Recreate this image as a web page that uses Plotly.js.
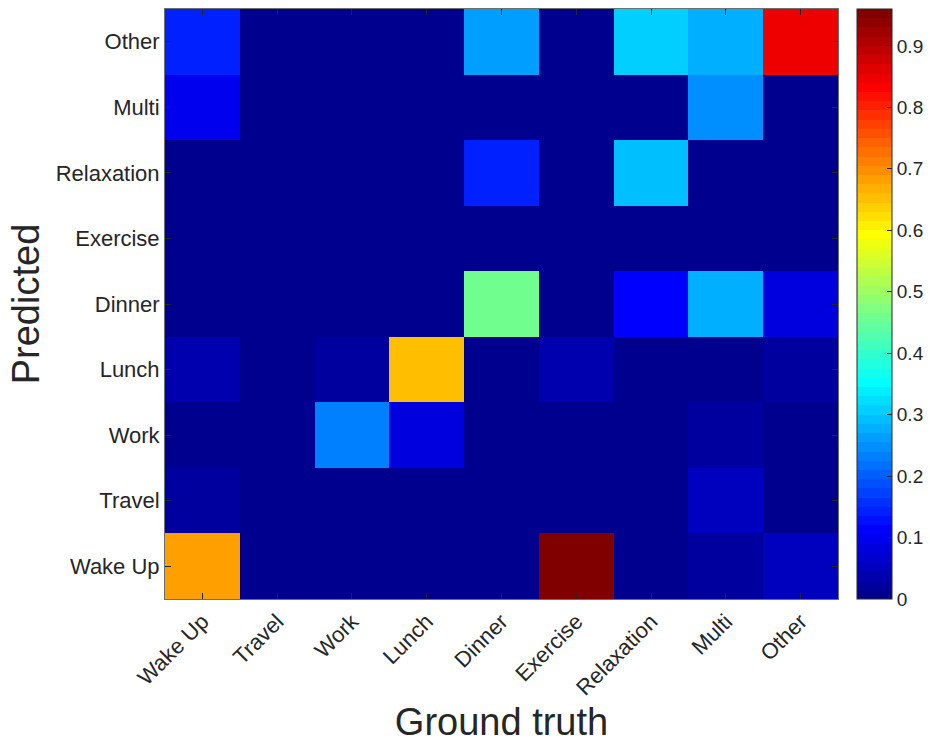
<!DOCTYPE html>
<html>
<head>
<meta charset="utf-8">
<script src="https://cdn.plot.ly/plotly-3.0.1.min.js"></script>
<style>html,body{margin:0;padding:0;background:#fff;}#chart{width:930px;height:743px;}</style>
</head>
<body>
<div id="chart"></div>
<script>
// Categories (ground truth on x, predicted on y)
const groundTruth = ['Wake Up','Travel','Work','Lunch','Dinner','Exercise','Relaxation','Multi','Other'];
const predicted   = ['Wake Up','Travel','Work','Lunch','Dinner','Exercise','Relaxation','Multi','Other'];

// One row per predicted class, columns follow groundTruth order
const predWakeUp     = [0.682, 0, 0,     0,     0,     0.960, 0.005, 0.022, 0.052];
const predTravel     = [0.022, 0, 0,     0,     0,     0,     0,     0.052, 0.008];
const predWork       = [0.005, 0, 0.232, 0.082, 0,     0,     0.005, 0.022, 0.008];
const predLunch      = [0.037, 0, 0.022, 0.652, 0,     0.037, 0.005, 0.008, 0.018];
const predDinner     = [0,     0, 0,     0,     0.457, 0,     0.112, 0.277, 0.082];
const predExercise   = [0,     0, 0,     0,     0,     0,     0,     0,     0];
const predRelaxation = [0,     0, 0,     0,     0.142, 0,     0.292, 0,     0];
const predMulti      = [0.097, 0, 0,     0,     0,     0,     0,     0.247, 0];
const predOther      = [0.142, 0, 0,     0,     0.262, 0,     0.307, 0.277, 0.847];

const colorTicks = [0, 0.1, 0.2, 0.3, 0.4, 0.5, 0.6, 0.7, 0.8, 0.9];

const z = [predWakeUp, predTravel, predWork, predLunch, predDinner,
           predExercise, predRelaxation, predMulti, predOther];

// MATLAB-style jet(64) as a stepped colorscale
function jet64() {
  const m = 64, n = 16;
  const u = [];
  for (let i = 1; i <= n; i++) u.push(i / n);
  for (let i = 0; i < n - 1; i++) u.push(1);
  for (let i = n; i >= 1; i--) u.push(i / n);
  const R = new Array(m).fill(0), G = new Array(m).fill(0), B = new Array(m).fill(0);
  for (let k = 0; k < u.length; k++) {
    const g = 8 + k + 1, r = g + n, b = g - n;
    if (g >= 1 && g <= m) G[g - 1] = u[k];
    if (r >= 1 && r <= m) R[r - 1] = u[k];
    if (b >= 1 && b <= m) B[b - 1] = u[k];
  }
  const scale = [];
  for (let i = 0; i < m; i++) {
    const c = 'rgb(' + Math.round(R[i]*255) + ',' + Math.round(G[i]*255) + ',' + Math.round(B[i]*255) + ')';
    scale.push([i / m, c]);
    scale.push([(i + 1) / m, c]);
  }
  return scale;
}

const font = 'Liberation Sans, Arial, Helvetica, sans-serif';
const txt = '#262626';

const trace = {
  type: 'heatmap',
  x: groundTruth,
  y: predicted,
  z: z,
  zmin: 0,
  zmax: 0.96,
  colorscale: jet64(),
  hoverinfo: 'x+y+z',
  colorbar: {
    x: 1.028, xanchor: 'left', xpad: 0,
    y: 0.5, yanchor: 'middle', ypad: 0,
    len: 1, lenmode: 'fraction',
    thickness: 35,
    outlinewidth: 1, outlinecolor: '#262626',
    tickvals: colorTicks,
    ticktext: colorTicks.map(v => String(v)),
    ticks: 'inside', ticklen: 5, tickcolor: '#262626',
    tickfont: {family: font, size: 19, color: txt}
  }
};

const layout = {
  width: 930, height: 743,
  autosize: false,
  margin: {l: 165, r: 92, t: 9, b: 144, autoexpand: false},
  paper_bgcolor: '#fff', plot_bgcolor: '#fff',
  font: {family: font, color: txt},
  xaxis: {
    type: 'category',
    tickangle: -45,
    tickfont: {family: font, size: 22, color: txt},
    ticks: 'inside', ticklen: 6, tickcolor: '#262626',
    showline: true, linecolor: '#6e6e6e', linewidth: 1, mirror: 'allticks',
    showgrid: false, zeroline: false,
    title: {text: 'Ground truth', font: {family: font, size: 38, color: txt}, standoff: 12},
    automargin: false
  },
  yaxis: {
    type: 'category',
    tickfont: {family: font, size: 22, color: txt},
    ticks: 'inside', ticklen: 6, tickcolor: '#262626',
    showline: true, linecolor: '#6e6e6e', linewidth: 1, mirror: 'allticks',
    showgrid: false, zeroline: false,
    title: {text: 'Predicted', font: {family: font, size: 38, color: txt}, standoff: 4},
    automargin: false
  }
};

Plotly.newPlot('chart', [trace], layout, {displayModeBar: false, staticPlot: true});
</script>
</body>
</html>
